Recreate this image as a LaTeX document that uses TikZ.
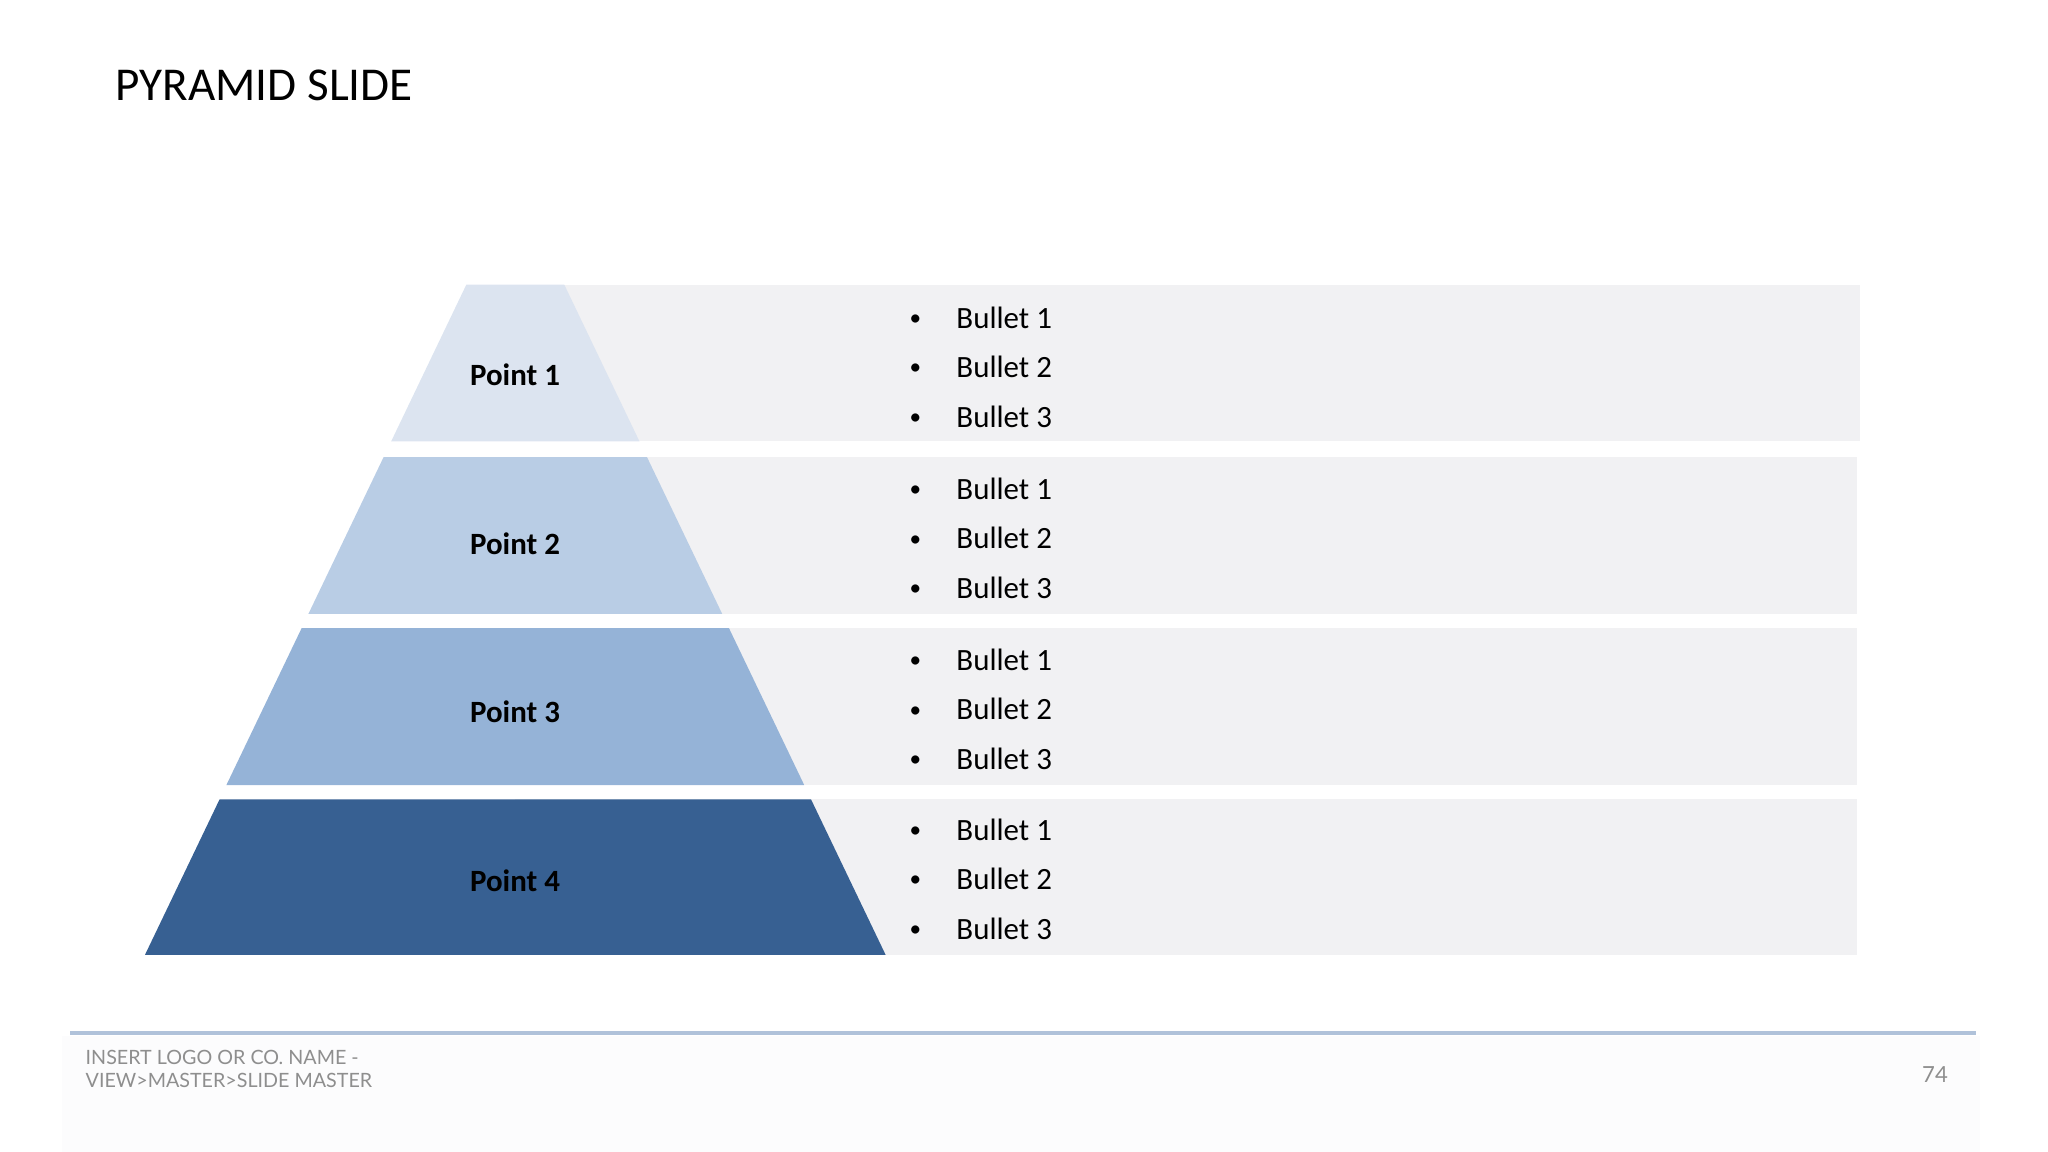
\documentclass[tikz,border=0pt]{standalone}
\usepackage{fontspec}
\setmainfont{Carlito}
\newfontfamily\footfont{Lato}

\definecolor{tierA}{HTML}{DCE4F0}
\definecolor{tierB}{HTML}{B9CDE5}
\definecolor{tierC}{HTML}{95B3D7}
\definecolor{tierD}{HTML}{376092}
\definecolor{rowgray}{HTML}{F1F1F3}
\definecolor{footline}{HTML}{B0C2DA}
\definecolor{footgray}{HTML}{8E8E8E}
\definecolor{footbg}{HTML}{FCFCFD}

\newcommand{\dotmark}{\makebox[13.3pt][l]{\raisebox{0.75pt}{\scalebox{0.75}{\textbullet}}}}

\begin{document}
\begin{tikzpicture}[x=0.01cm,y=-0.01cm,
        rowbg/.style={fill=rowgray},
        point/.style={inner sep=0,font=\fontsize{8.8}{10}\selectfont\bfseries},
        item/.style={anchor=west,inner sep=0,font=\fontsize{8.8}{10}\selectfont},
        foot/.style={anchor=west,inner sep=0,text=footgray,font=\footfont\fontsize{5.6}{6.6}\selectfont}]
    \useasboundingbox (0,0) rectangle (2048,1152);

    % title
    \node[anchor=base west,inner sep=0,font=\fontsize{13.4}{16}\selectfont] (title) at (115,100.5) {PYRAMID SLIDE};

    % grey rows behind the pyramid
    \fill[rowbg] (515,284.7) rectangle (1860,441.5);
    \fill[rowbg] (515,457.1) rectangle (1857,613.9);
    \fill[rowbg] (515,628.2) rectangle (1857,785.0);
    \fill[rowbg] (515,799.3) rectangle (1857,954.8);

    % pyramid tiers
    \fill[tierA] (466.3,284.7) -- (564.3,284.7) -- (639.5,441.5) -- (391.1,441.5) -- cycle;
    \fill[tierB] (383.6,457.1) -- (647.0,457.1) -- (722.2,613.9) -- (308.4,613.9) -- cycle;
    \fill[tierC] (301.6,628.2) -- (729.0,628.2) -- (804.2,785.0) -- (226.4,785.0) -- cycle;
    \fill[tierD] (219.6,799.3) -- (811.0,799.3) -- (885.6,954.8) -- (145.0,954.8) -- cycle;

    \node[point] (p1) at (515,374.8) {Point 1};
    \node[point] (p2) at (515,543.3) {Point 2};
    \node[point] (p3) at (515,711.8) {Point 3};
    \node[point] (p4) at (515,880.3) {Point 4};

    % bullets
    \node[item] (b11) at (909,317.4) {\dotmark Bullet 1};
    \node[item] (b12) at (909,367.0) {\dotmark Bullet 2};
    \node[item] (b13) at (909,416.6) {\dotmark Bullet 3};
    \node[item] (b21) at (909,488.5) {\dotmark Bullet 1};
    \node[item] (b22) at (909,538.1) {\dotmark Bullet 2};
    \node[item] (b23) at (909,587.7) {\dotmark Bullet 3};
    \node[item] (b31) at (909,659.6) {\dotmark Bullet 1};
    \node[item] (b32) at (909,709.2) {\dotmark Bullet 2};
    \node[item] (b33) at (909,758.8) {\dotmark Bullet 3};
    \node[item] (b41) at (909,829.4) {\dotmark Bullet 1};
    \node[item] (b42) at (909,879.0) {\dotmark Bullet 2};
    \node[item] (b43) at (909,928.6) {\dotmark Bullet 3};

    % footer
    \fill[footbg] (62,1036) rectangle (1980,1152);
    \draw[footline,line width=0.9pt] (70,1033) -- (1976,1033);
    \node[foot] (logo1) at (85,1057) {INSERT LOGO OR CO. NAME -};
    \node[foot] (logo2) at (85,1080) {VIEW>MASTER>SLIDE MASTER};
    \node[inner sep=0,text=footgray,font=\footfont\fontsize{6.3}{7.5}\selectfont] (pagenum) at (1935,1075) {74};
\end{tikzpicture}
\end{document}
